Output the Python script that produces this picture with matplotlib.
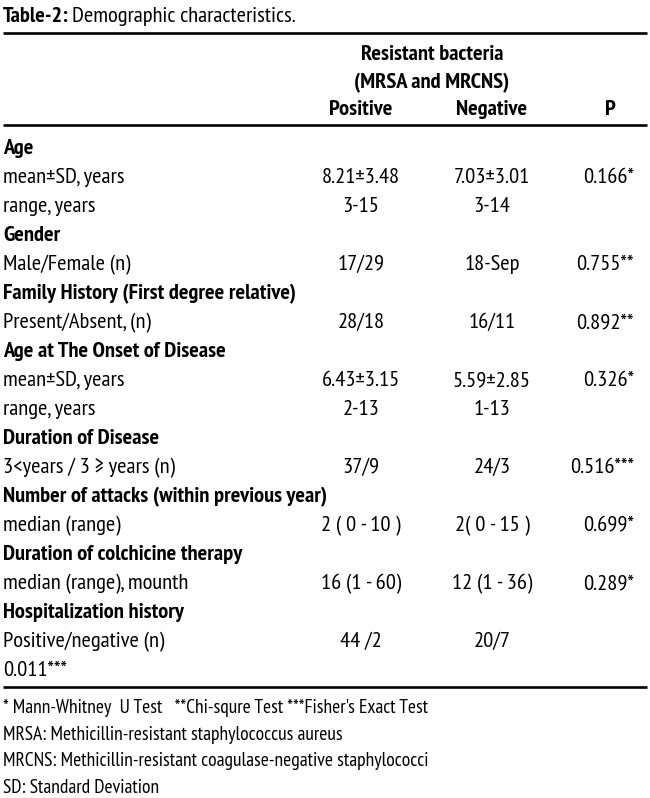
import matplotlib.pyplot as plt
from matplotlib import font_manager

# narrow font with both a regular and a bold face
have = {}
for f in font_manager.fontManager.ttflist:
    have.setdefault(f.name, set()).add(f.weight)
candidates = ['PT Sans Narrow', 'Fira Sans Condensed', 'Open Sans Condensed',
              'Roboto Condensed', 'Asap Condensed', 'Encode Sans Condensed',
              'IBM Plex Sans Condensed', 'Barlow Semi Condensed', 'Saira SemiCondensed',
              'Liberation Sans Narrow']
FONT = 'DejaVu Sans'
for c in candidates:
    w = have.get(c, set())
    if any(x in (400, 'normal', 'regular') for x in w) and any(x in (700, 'bold') for x in w):
        FONT = c
        break
plt.rcParams['font.family'] = [FONT, 'DejaVu Sans']

labels = ["Age", "mean\u00b1SD, years", "range, years",
          "Gender", "Male/Female (n)",
          "Family History (First degree relative)", "Present/Absent, (n)",
          "Age at The Onset of Disease", "mean\u00b1SD, years", "range, years",
          "Duration of Disease", "3<years / 3 \u2265 years (n)",
          "Number of attacks (within previous year)", "median (range)",
          "Duration of colchicine therapy", "median (range), mounth",
          "Hospitalization history", "Positive/negative (n)", "0.011***"]
is_header = [1, 0, 0, 1, 0, 1, 0, 1, 0, 0, 1, 0, 1, 0, 1, 0, 1, 0, 0]
positive = ["", "8.21\u00b13.48", "3-15", "", "17/29", "", "28/18", "",
            "6.43\u00b13.15", "2-13", "", "37/9", "", "2 ( 0 - 10 )", "",
            "16 (1 - 60)", "", "44 /2", ""]
negative = ["", "7.03\u00b13.01", "3-14", "", "18-Sep", "", "16/11", "",
            "5.59\u00b12.85", "1-13", "", "24/3", "", "2( 0 - 15 )", "",
            "12 (1 - 36)", "", "20/7", ""]
pvals = ["", "0.166*", "", "", "0.755**", "", "0.892**", "",
         "0.326*", "", "", "0.516***", "", "0.699*", "", "0.289*", "", "", ""]
footnotes = ["* Mann-Whitney  U Test   **Chi-squre Test ***Fisher's Exact Test",
             "MRSA: Methicillin-resistant staphylococcus aureus",
             "MRCNS: Methicillin-resistant coagulase-negative staphylococci",
             "SD: Standard Deviation"]

fig = plt.figure(figsize=(6.5, 7.98), dpi=100)
ax = fig.add_axes([0, 0, 1, 1])
ax.set_xlim(0, 650)
ax.set_ylim(798, 0)
ax.axis('off')
renderer = fig.canvas.get_renderer()

def px_width(s, size, weight='normal'):
    t = ax.text(0, 0, s, fontsize=size, fontweight=weight)
    w = t.get_window_extent(renderer).width
    t.remove()
    return w

# fit sizes so the text widths match the reference
fs = 10 * (154 / px_width("Positive/negative (n)", 10) + 306 / px_width("Family History (First degree relative)", 10, 'bold')) / 2
fs_note = 10 * 423 / px_width(footnotes[2], 10)

def put(x, y, s, size=None, **kw):
    # y is the middle of the capitals; draw on the baseline below it
    size = size or fs
    off = 0.36 * size * 100 / 72
    return ax.text(x, y + off, s, fontsize=size, va='baseline', **kw)

t1 = put(3, 14, "Table-2:", fontweight='bold')
x2 = ax.transData.inverted().transform((t1.get_window_extent(renderer).x1, 0))[0]
put(x2 + 3, 14, "Demographic characteristics.")

for y in (33, 125, 687):
    ax.plot([3, 647], [y, y], color='black', lw=1.9, solid_capstyle='butt')

put(432, 52, "Resistant bacteria", fontweight='bold', ha='center')
put(432, 80, "(MRSA and MRCNS)", fontweight='bold', ha='center')
put(361, 107, "Positive", fontweight='bold', ha='center')
put(492, 107, "Negative", fontweight='bold', ha='center')
put(610, 107, "P", fontweight='bold', ha='center')

y0, dy = 146, 29
for i, lab in enumerate(labels):
    y = y0 + i * dy
    put(3, y, lab, fontweight='bold' if is_header[i] else 'normal')
    put(361, y, positive[i], ha='center')
    put(492, y, negative[i], ha='center')
    put(634, y, pvals[i], ha='right')

for j, note in enumerate(footnotes):
    put(3, 706 + j * 26.5, note, size=fs_note)

fig.savefig("out.png", dpi=100)
